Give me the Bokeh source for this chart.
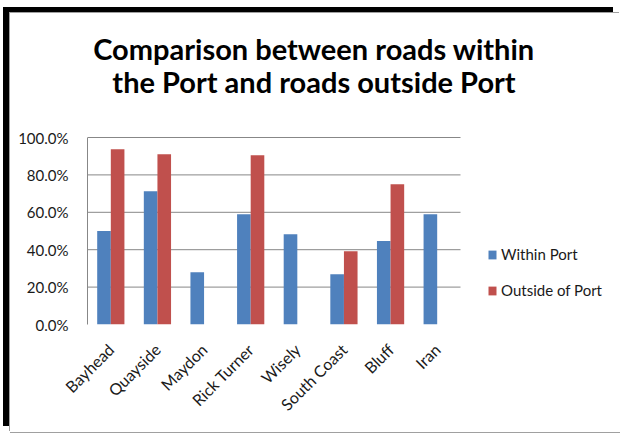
from bokeh.plotting import figure
from bokeh.models import (ColumnDataSource, Range1d, FixedTicker,
                          NumeralTickFormatter, Legend, LegendItem, Label)
from bokeh.embed import file_html
from bokeh.resources import INLINE
import math

categories = ["Bayhead", "Quayside", "Maydon", "Rick Turner", "Wisely",
              "South Coast", "Bluff", "Iran"]
within_port = [0.50, 0.713, 0.28, 0.59, 0.483, 0.269, 0.446, 0.59]
outside_port = [0.937, 0.911, float("nan"), 0.905, float("nan"), 0.392, 0.75, float("nan")]
y_ticks = [0.0, 0.2, 0.4, 0.6, 0.8, 1.0]
title_lines = ["Comparison between roads within", "the Port and roads outside Port"]

BLUE = "#4F81BD"
RED = "#C0504D"
GRID = "#878787"
TEXT = "#1a1a1a"
FONT = "Lato"

n = len(categories)
centers = [i + 0.5 for i in range(n)]
bw = 0.292
src = ColumnDataSource(dict(
    xw=[c - bw / 2 for c in centers], xo=[c + bw / 2 for c in centers],
    within=within_port, outside=outside_port))

# frame: page x 87..620, y 13..324 ; 46.625 px per category, 187 px per 100%
p = figure(x_range=Range1d(0, 533 / 46.625), y_range=Range1d(0, 311 / 187),
           width=610, height=419,
           min_border_left=77, min_border_right=0,
           min_border_top=0, min_border_bottom=108,
           output_backend="svg", toolbar_location=None)
p.margin = (13, 0, 0, 10)
p.styles = {"box-shadow": "-1px -1px 0 0 #a0a0a0, -7px -6px 0 0 black, 0 1px 0 0 #a0a0a0"}
p.outline_line_color = None
p.xgrid.grid_line_color = None
p.ygrid.grid_line_color = None

# horizontal gridlines spanning the category area only
grid_y = y_ticks[1:]
p.segment(x0=[0] * len(grid_y), x1=[n] * len(grid_y), y0=grid_y, y1=grid_y,
          line_color=GRID, line_width=1)

r1 = p.vbar(x="xw", top="within", width=bw, source=src, fill_color=BLUE, line_color=None)
r2 = p.vbar(x="xo", top="outside", width=bw, source=src, fill_color=RED, line_color=None)

p.yaxis.ticker = FixedTicker(ticks=y_ticks)
p.yaxis.bounds = (0, 1)
p.yaxis.formatter = NumeralTickFormatter(format="0.0%")
p.yaxis.axis_line_color = GRID
p.yaxis.major_tick_line_color = None
p.yaxis.minor_tick_line_color = None
p.yaxis.major_label_text_font = FONT
p.yaxis.major_label_text_font_size = "15px"
p.yaxis.major_label_text_color = TEXT
p.yaxis.major_label_standoff = 13

p.xaxis.ticker = FixedTicker(ticks=centers)
p.xaxis.major_label_overrides = {c: name for c, name in zip(centers, categories)}
p.xaxis.axis_line_color = None
p.xaxis.major_tick_line_color = None
p.xaxis.minor_tick_line_color = None
p.xaxis.major_label_orientation = math.pi / 4
p.xaxis.major_label_text_font = FONT
p.xaxis.major_label_text_font_size = "16px"
p.xaxis.major_label_text_color = TEXT
p.xaxis.major_label_standoff = 16

legend = Legend(items=[LegendItem(label="Within Port", renderers=[r1]),
                       LegendItem(label="Outside of Port", renderers=[r2])],
                location=(400, 24), border_line_color=None, background_fill_alpha=0,
                glyph_width=10, glyph_height=11, label_height=20, spacing=16,
                padding=0, margin=0, label_standoff=4,
                label_text_font=FONT, label_text_font_size="15px",
                label_text_color=TEXT)
p.add_layout(legend, "center")

for i, t in enumerate(title_lines):
    p.add_layout(Label(x=4.858, y=1.478 - i * 0.178, text=t, text_align="center",
                       text_baseline="alphabetic", text_font=FONT,
                       text_font_style="bold", text_font_size="29px",
                       text_color="black"))

open("out.html", "w").write(file_html(p, INLINE))
